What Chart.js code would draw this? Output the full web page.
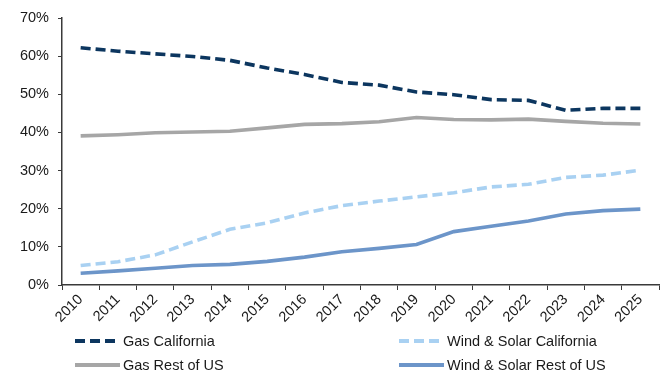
<!DOCTYPE html>
<html>
<head>
<meta charset="utf-8">
<script src="https://cdn.jsdelivr.net/npm/chart.js@4.4.1/dist/chart.umd.min.js"></script>
<style>
  html, body { margin: 0; padding: 0; background: #fff; }
  #wrap { position: relative; width: 662px; height: 373px; font-family: "Liberation Sans", Arial, sans-serif; }
  #chart { position: absolute; left: 0; top: 0; }
  .item { position: absolute; display: flex; align-items: center; font-size: 14.5px; color: #1a1a1a; white-space: nowrap; }
  .item svg { margin-right: 3px; }
</style>
</head>
<body>
<div id="wrap">
  <canvas id="chart" width="662" height="373"></canvas>
  <div id="legend"></div>
</div>
<script>
// Years on the x axis
const years = ['2010','2011','2012','2013','2014','2015','2016','2017',
               '2018','2019','2020','2021','2022','2023','2024','2025'];

// Share of generation (%)
const gasCalifornia      = [62.2, 61.3, 60.6, 59.9, 58.9, 56.9, 55.2, 53.1, 52.4, 50.6, 49.9, 48.6, 48.4, 45.8, 46.3, 46.3];
const gasRestOfUS        = [39.1, 39.4, 39.9, 40.1, 40.3, 41.2, 42.1, 42.3, 42.8, 43.9, 43.4, 43.3, 43.5, 42.9, 42.4, 42.2];
const windSolarCalifornia = [5.1, 6.1, 7.9, 11.3, 14.6, 16.3, 18.9, 20.8, 22.0, 23.1, 24.2, 25.7, 26.4, 28.2, 28.8, 30.1];
const windSolarRestOfUS  = [3.1, 3.7, 4.4, 5.1, 5.4, 6.2, 7.3, 8.7, 9.6, 10.6, 14.0, 15.4, 16.8, 18.6, 19.5, 19.9];

// Y axis tick values
const yTicks = [0, 10, 20, 30, 40, 50, 60, 70];

const series = [
  { label: 'Gas California',           data: gasCalifornia,       color: '#0c365f', dash: [10, 5] },
  { label: 'Gas Rest of US',           data: gasRestOfUS,         color: '#a6a6a6', dash: [] },
  { label: 'Wind & Solar California',  data: windSolarCalifornia, color: '#a9d1f2', dash: [10, 5] },
  { label: 'Wind & Solar Rest of US',  data: windSolarRestOfUS,   color: '#6c95c9', dash: [] }
];

const FONT = { family: '"Liberation Sans", Arial, sans-serif', size: 14.5 };
const AXIS = '#3a3a3a';

new Chart(document.getElementById('chart'), {
  type: 'line',
  data: {
    labels: years,
    datasets: series.map(s => ({
      label: s.label,
      data: s.data,
      borderColor: s.color,
      backgroundColor: s.color,
      borderWidth: 3.6,
      borderDash: s.dash,
      borderCapStyle: 'butt',
      pointRadius: 0,
      tension: 0,
      fill: false
    }))
  },
  options: {
    responsive: false,
    animation: false,
    layout: { padding: { left: 0, right: 3, top: 18, bottom: 43 } },
    plugins: { legend: { display: false }, tooltip: { enabled: false } },
    scales: {
      x: {
        offset: true,
        grid: { display: true, offset: true, drawOnChartArea: false, drawTicks: true, tickLength: 5, color: AXIS, lineWidth: 1 },
        border: { display: true, color: AXIS, width: 1.5 },
        ticks: { font: FONT, color: '#1a1a1a', maxRotation: 45, minRotation: 45, padding: 1, autoSkip: false },
        afterFit: s => { s.height = 45; }
      },
      y: {
        min: 0, max: 70,
        afterBuildTicks: s => { s.ticks = yTicks.map(v => ({ value: v })); },
        grid: { display: true, drawOnChartArea: false, drawTicks: true, tickLength: 4, color: AXIS },
        border: { display: true, color: AXIS, width: 1.5 },
        ticks: { font: FONT, color: '#1a1a1a', padding: 9, callback: v => v + '%' },
        afterFit: s => { s.width = 62; }
      }
    }
  }
});

// Legend in two columns below the axis
const legendPos = [
  { left: 75,  top: 341 },
  { left: 75,  top: 365 },
  { left: 399, top: 341 },
  { left: 399, top: 365 }
];
const legend = document.getElementById('legend');
series.forEach((s, i) => {
  const el = document.createElement('div');
  el.className = 'item';
  el.style.left = legendPos[i].left + 'px';
  el.style.top = (legendPos[i].top - 9) + 'px';
  el.style.height = '18px';
  const dash = s.dash.length ? ` stroke-dasharray="${s.dash.join(' ')}"` : '';
  el.innerHTML = `<svg width="45" height="8"><line x1="0" y1="4" x2="45" y2="4" stroke="${s.color}" stroke-width="4"${dash}/></svg>`;
  const t = document.createElement('span');
  t.textContent = s.label;
  el.appendChild(t);
  legend.appendChild(el);
});
</script>
</body>
</html>
